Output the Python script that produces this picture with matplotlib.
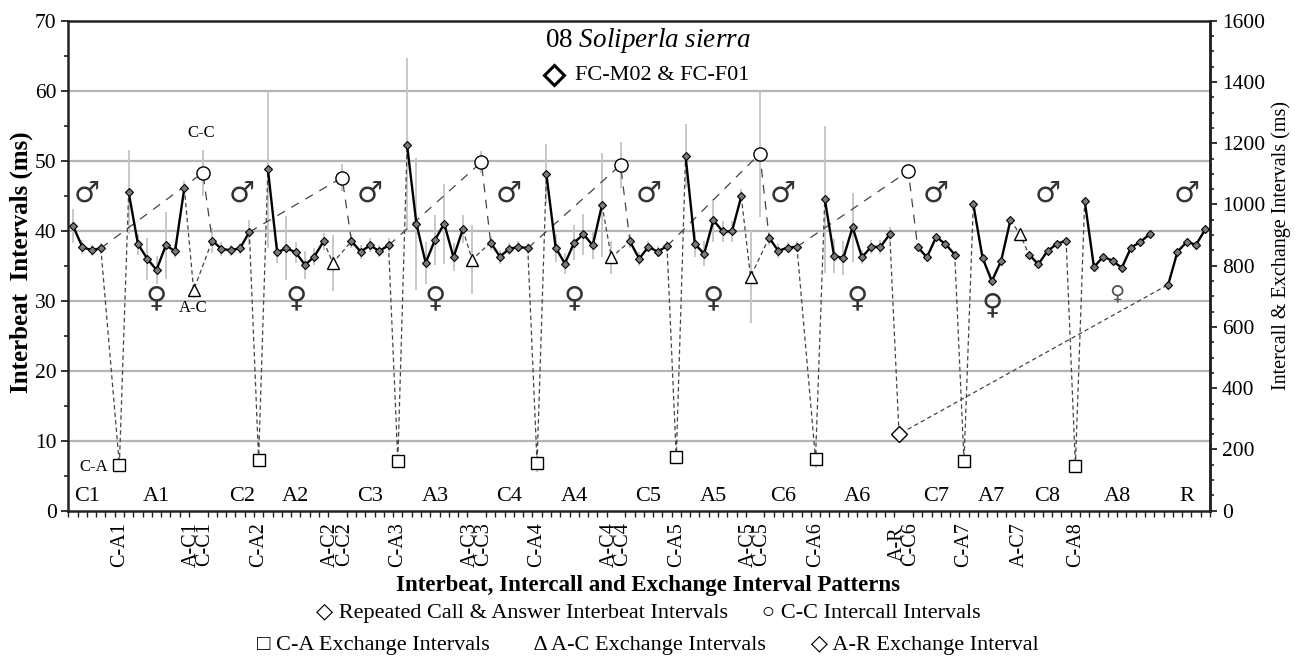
import matplotlib
matplotlib.use("Agg")
import matplotlib.pyplot as plt
from matplotlib.ticker import MultipleLocator, FixedLocator, NullFormatter
import numpy as np

plt.rcParams['font.family'] = ['Liberation Serif', 'DejaVu Sans']
plt.rcParams['mathtext.fontset'] = 'custom'
plt.rcParams['mathtext.rm'] = 'Liberation Serif'
plt.rcParams['mathtext.it'] = 'Liberation Serif:italic'

# ---- Interbeat intervals (ms) for each call (C) / answer (A) / response (R) ----
group_names = ["C1", "A1", "C2", "A2", "C3", "A3", "C4", "A4", "C5", "A5",
               "C6", "A6", "C7", "A7", "C8", "A8", "R"]
group_start = [0, 6, 15, 21, 30, 36, 45, 51, 60, 66, 75, 81, 91, 97, 103, 109, 118]
group_values = [
    [40.7, 37.7, 37.2, 37.5],
    [45.5, 38.1, 36.0, 34.4, 37.9, 37.1, 46.1],
    [38.6, 37.4, 37.2, 37.5, 39.8],
    [48.8, 36.9, 37.5, 36.9, 35.1, 36.3, 38.5],
    [38.5, 37.0, 37.9, 37.1, 37.9],
    [52.2, 41.0, 35.4, 38.7, 41.0, 36.2, 40.2],
    [38.3, 36.3, 37.4, 37.7, 37.5],
    [48.1, 37.6, 35.3, 38.3, 39.5, 37.9, 43.7],
    [38.5, 36.0, 37.7, 37.0, 37.8],
    [50.7, 38.1, 36.7, 41.5, 39.9, 39.9, 44.9],
    [39.0, 37.1, 37.6, 37.7],
    [44.5, 36.4, 36.1, 40.5, 36.2, 37.7, 37.7, 39.5],
    [37.7, 36.2, 39.1, 38.1, 36.6],
    [43.8, 36.1, 32.8, 35.7, 41.5],
    [36.6, 35.2, 37.1, 38.1, 38.6],
    [44.3, 34.8, 36.3, 35.7, 34.7, 37.6, 38.4, 39.5],
    [32.3, 37.0, 38.4, 38.0, 40.2],
]
group_sd = [
    [2.4, 1.0, 0.8, 0.8],
    [6.0, 1.5, 3.0, 2.0, 4.8, 1.0, 1.0],
    [1.8, 1.0, 0.8, 0.8, 1.8],
    [11.2, 1.5, 4.6, 1.5, 2.0, 1.2, 1.2],
    [1.0, 1.0, 1.0, 0.8, 1.0],
    [12.4, 9.4, 3.0, 3.6, 5.7, 2.0, 2.0],
    [1.0, 1.0, 0.8, 0.8, 0.8],
    [4.3, 2.0, 1.5, 2.5, 2.9, 2.0, 7.4],
    [1.0, 1.0, 0.8, 0.8, 0.8],
    [4.5, 1.8, 1.8, 3.1, 1.5, 1.5, 1.0],
    [1.0, 1.0, 0.8, 0.8],
    [10.5, 2.4, 2.4, 4.9, 1.0, 1.0, 1.0, 1.0],
    [0, 0, 0, 0, 0],
    [0, 0, 0, 0, 0],
    [0, 0, 0, 0, 0],
    [0, 0, 0, 0, 0, 0, 0, 0],
    [0, 0, 0, 0, 0],
]

# ---- Exchange intervals (ms, right axis) ----
# C-A: last beat of call n -> first beat of answer n
ca_slot = [5, 20, 35, 50, 65, 80, 96, 108]
ca_ms = [150, 167, 163, 155, 174, 169, 162, 146]
ca_sd = [25, 25, 20, 30, 20, 30, 0, 0]
ca_from = [0, 2, 4, 6, 8, 10, 12, 14]   # call group index
ca_to = [1, 3, 5, 7, 9, 11, 13, 15]     # answer group index

# A-C: last beat of answer n -> first beat of next call
ac_slot = [13, 28, 43, 58, 73, 102]
ac_ms = [720, 809, 820, 827, 764, 905]
ac_sd = [25, 90, 114, 55, 150, 0]
ac_from = [1, 3, 5, 7, 9, 13]
ac_to = [2, 4, 6, 8, 10, 14]

# C-C: intercall intervals
cc_slot = [14, 29, 44, 59, 74, 90]
cc_ms = [1104, 1088, 1138, 1129, 1166, 1109]
cc_sd = [75, 43, 35, 75, 206, 0]
cc_from = [0, 2, 4, 6, 8, 10]
cc_to = [2, 4, 6, 8, 10, 12]

# A-R exchange
ar_slot = [89]
ar_ms = [250]
ar_from = [11]
ar_to = [16]

# Category labels below the axis (adjacent pairs share one stacked label)
tick_pos = [5, 13.5, 20, 28.5, 35, 43.5, 50, 58.5, 65, 73.5, 80, 89.5, 96, 102, 108]
tick_text = ["C-A1", "A-C1\nC-C1", "C-A2", "A-C2\nC-C2", "C-A3", "A-C3\nC-C3",
             "C-A4", "A-C4\nC-C4", "C-A5", "A-C5\nC-C5", "C-A6", "A-R\nC-C6",
             "C-A7", "A-C7", "C-A8"]
n_slots = 123

MS_PER_UNIT = 1600.0 / 70.0


def to_left(ms):
    return np.asarray(ms, dtype=float) / MS_PER_UNIT


def to_right(v):
    return np.asarray(v, dtype=float) * MS_PER_UNIT


fig = plt.figure(figsize=(13.04, 6.59), dpi=100)
ax = fig.add_axes([0.0524, 0.2250, 0.8755, 0.7436])
ax.set_xlim(-0.5, n_slots - 0.5)
ax.set_ylim(0, 70)

grid_c = "#b4b4b4"
for gy in range(10, 70, 10):
    ax.axhline(gy, color=grid_c, lw=1.6, zorder=0)

dash_c = "#444444"
short_dash = (0, (3.5, 2.5))
long_dash = (0, (7, 6))


def first_pt(g):
    return group_start[g], group_values[g][0]


def last_pt(g):
    return group_start[g] + len(group_values[g]) - 1, group_values[g][-1]


# connectors through exchange points
def connect(slots, ms, frm, to, style, lw=0.9):
    for s, m, a, b in zip(slots, ms, frm, to):
        xa, ya = last_pt(a)
        xb, yb = first_pt(b)
        ax.plot([xa, s, xb], [ya, to_left(m), yb], color=dash_c, lw=lw,
                linestyle=style, zorder=2)


connect(ca_slot, ca_ms, ca_from, ca_to, short_dash)
connect(ac_slot, ac_ms, ac_from, ac_to, short_dash)
connect(cc_slot, cc_ms, cc_from, cc_to, long_dash)
connect(ar_slot, ar_ms, ar_from, ar_to, short_dash)

err_c = "#c4c4c4"
# error bars (standard deviation)
for g, vals in enumerate(group_values):
    xs = np.arange(group_start[g], group_start[g] + len(vals))
    ax.errorbar(xs, vals, yerr=group_sd[g], fmt='none', ecolor=err_c,
                elinewidth=1.3, capsize=0, zorder=1)
ax.errorbar(ca_slot, to_left(ca_ms), yerr=to_left(ca_sd), fmt='none', ecolor=err_c,
            elinewidth=1.3, capsize=0, zorder=1)
ax.errorbar(ac_slot, to_left(ac_ms), yerr=to_left(ac_sd), fmt='none', ecolor=err_c,
            elinewidth=1.3, capsize=0, zorder=1)
ax.errorbar(cc_slot, to_left(cc_ms), yerr=to_left(cc_sd), fmt='none', ecolor=err_c,
            elinewidth=1.3, capsize=0, zorder=1)

# interbeat series
for g, vals in enumerate(group_values):
    xs = np.arange(group_start[g], group_start[g] + len(vals))
    ax.plot(xs, vals, color="black", lw=1.7, marker="D", markersize=4.2,
            markerfacecolor="#7a7a7a", markeredgecolor="black", markeredgewidth=0.8,
            zorder=4)

# exchange markers
ax.plot(ca_slot, to_left(ca_ms), linestyle="none", marker="s", markersize=8.5,
        markerfacecolor="white", markeredgecolor="black", markeredgewidth=1.0, zorder=5)
ax.plot(ac_slot, to_left(ac_ms), linestyle="none", marker="^", markersize=8.5,
        markerfacecolor="white", markeredgecolor="black", markeredgewidth=1.0, zorder=5)
ax.plot(cc_slot, to_left(cc_ms), linestyle="none", marker="o", markersize=9.5,
        markerfacecolor="white", markeredgecolor="black", markeredgewidth=1.0, zorder=5)
ax.plot(ar_slot, to_left(ar_ms), linestyle="none", marker="D", markersize=8,
        markerfacecolor="white", markeredgecolor="black", markeredgewidth=1.0, zorder=5)

# group names and sex symbols
sym_kw = dict(ha="center", va="center", family=['DejaVu Sans'], color="#333333")
for g, name in enumerate(group_names):
    xc = group_start[g] + (len(group_values[g]) - 1) / 2.0
    if name == "C2":
        xc += 1.2
    ax.text(xc, 2.0, name, ha="center", va="center", fontsize=16, zorder=6)
    if name.startswith("A"):
        if name == "A8":
            ax.text(xc, 31.0, "\u2640", fontsize=15, **{**sym_kw, "color": "#555555"})
        elif name == "A7":
            ax.text(xc, 29.3, "\u2640", fontsize=21, **sym_kw)
        else:
            ax.text(xc, 30.3, "\u2640", fontsize=21, **sym_kw)
    else:
        ax.text(xc, 45.3, "\u2642", fontsize=21, **sym_kw)

# annotation of exchange types
ax.text(13.8, 53.9, "C-C", ha="center", va="center", fontsize=12)
ax.text(13.0, 29.0, "A-C", ha="center", va="center", fontsize=12)
ax.text(2.2, 6.2, "C-A", ha="center", va="center", fontsize=12)

# axes styling
axis_c = "#222222"
for side in ["left", "right", "top", "bottom"]:
    ax.spines[side].set_color(axis_c)
    ax.spines[side].set_linewidth(1.8)

ax.yaxis.set_major_locator(MultipleLocator(10))
ax.yaxis.set_minor_locator(MultipleLocator(5))
ax.tick_params(axis="y", which="major", direction="out", length=5, width=1.3,
               labelsize=15.5, colors=axis_c, labelcolor="black")
ax.tick_params(axis="y", which="minor", direction="out", length=3, width=1.2,
               colors=axis_c)

ax.xaxis.set_major_locator(FixedLocator(tick_pos))
ax.set_xticklabels(tick_text, rotation=90, fontsize=14.5, linespacing=0.62)
ax.xaxis.set_minor_locator(FixedLocator(np.arange(n_slots + 1) - 0.5))
ax.xaxis.set_minor_formatter(NullFormatter())
ax.tick_params(axis="x", which="major", length=0, pad=8)
ax.tick_params(axis="x", which="minor", direction="out", length=4, width=1.0,
               colors=axis_c)

ax.set_ylabel("Interbeat  Intervals (ms)", fontsize=18, fontweight="bold")
ax.yaxis.set_label_coords(-0.031, 0.508)

sec = ax.secondary_yaxis("right", functions=(to_right, to_left))
sec.yaxis.set_major_locator(FixedLocator(np.arange(0, 1601, 200)))
sec.yaxis.set_minor_locator(FixedLocator(np.arange(0, 1601, 50)))
sec.tick_params(axis="y", which="major", direction="out", length=5, width=1.3,
                labelsize=15.5, colors=axis_c, labelcolor="black")
sec.tick_params(axis="y", which="minor", direction="out", length=3, width=1.2,
                colors=axis_c)
sec.spines["right"].set_color(axis_c)
sec.spines["right"].set_linewidth(1.8)
fig.text(0.9825, 0.628, "Intercall & Exchange Intervals (ms)", rotation=90,
         ha="center", va="center", fontsize=14.5)

# title block
ax.text(0.508, 0.960, r"08 $\mathit{Soliperla\ sierra}$", transform=ax.transAxes,
        ha="center", va="center", fontsize=19.5)
ax.plot([0.4254], [0.889], transform=ax.transAxes, marker="D", markersize=10,
        markerfacecolor="white", markeredgecolor="black", markeredgewidth=2.2,
        clip_on=False, zorder=7)
ax.text(0.444, 0.889, "FC-M02 & FC-F01", transform=ax.transAxes,
        ha="left", va="center", fontsize=16)

# bottom caption
fig.text(0.497, 0.112, "Interbeat, Intercall and Exchange Interval Patterns",
         ha="center", va="center", fontsize=16.5, fontweight="bold")
fig.text(0.497, 0.069,
         "\u25c7 Repeated Call & Answer Interbeat Intervals      \u25cb C-C Intercall Intervals",
         ha="center", va="center", fontsize=16)
fig.text(0.497, 0.021,
         "\u25a1 C-A Exchange Intervals        \u0394 A-C Exchange Intervals        \u25c7 A-R Exchange Interval",
         ha="center", va="center", fontsize=16)

fig.savefig("out.png", dpi=100)
